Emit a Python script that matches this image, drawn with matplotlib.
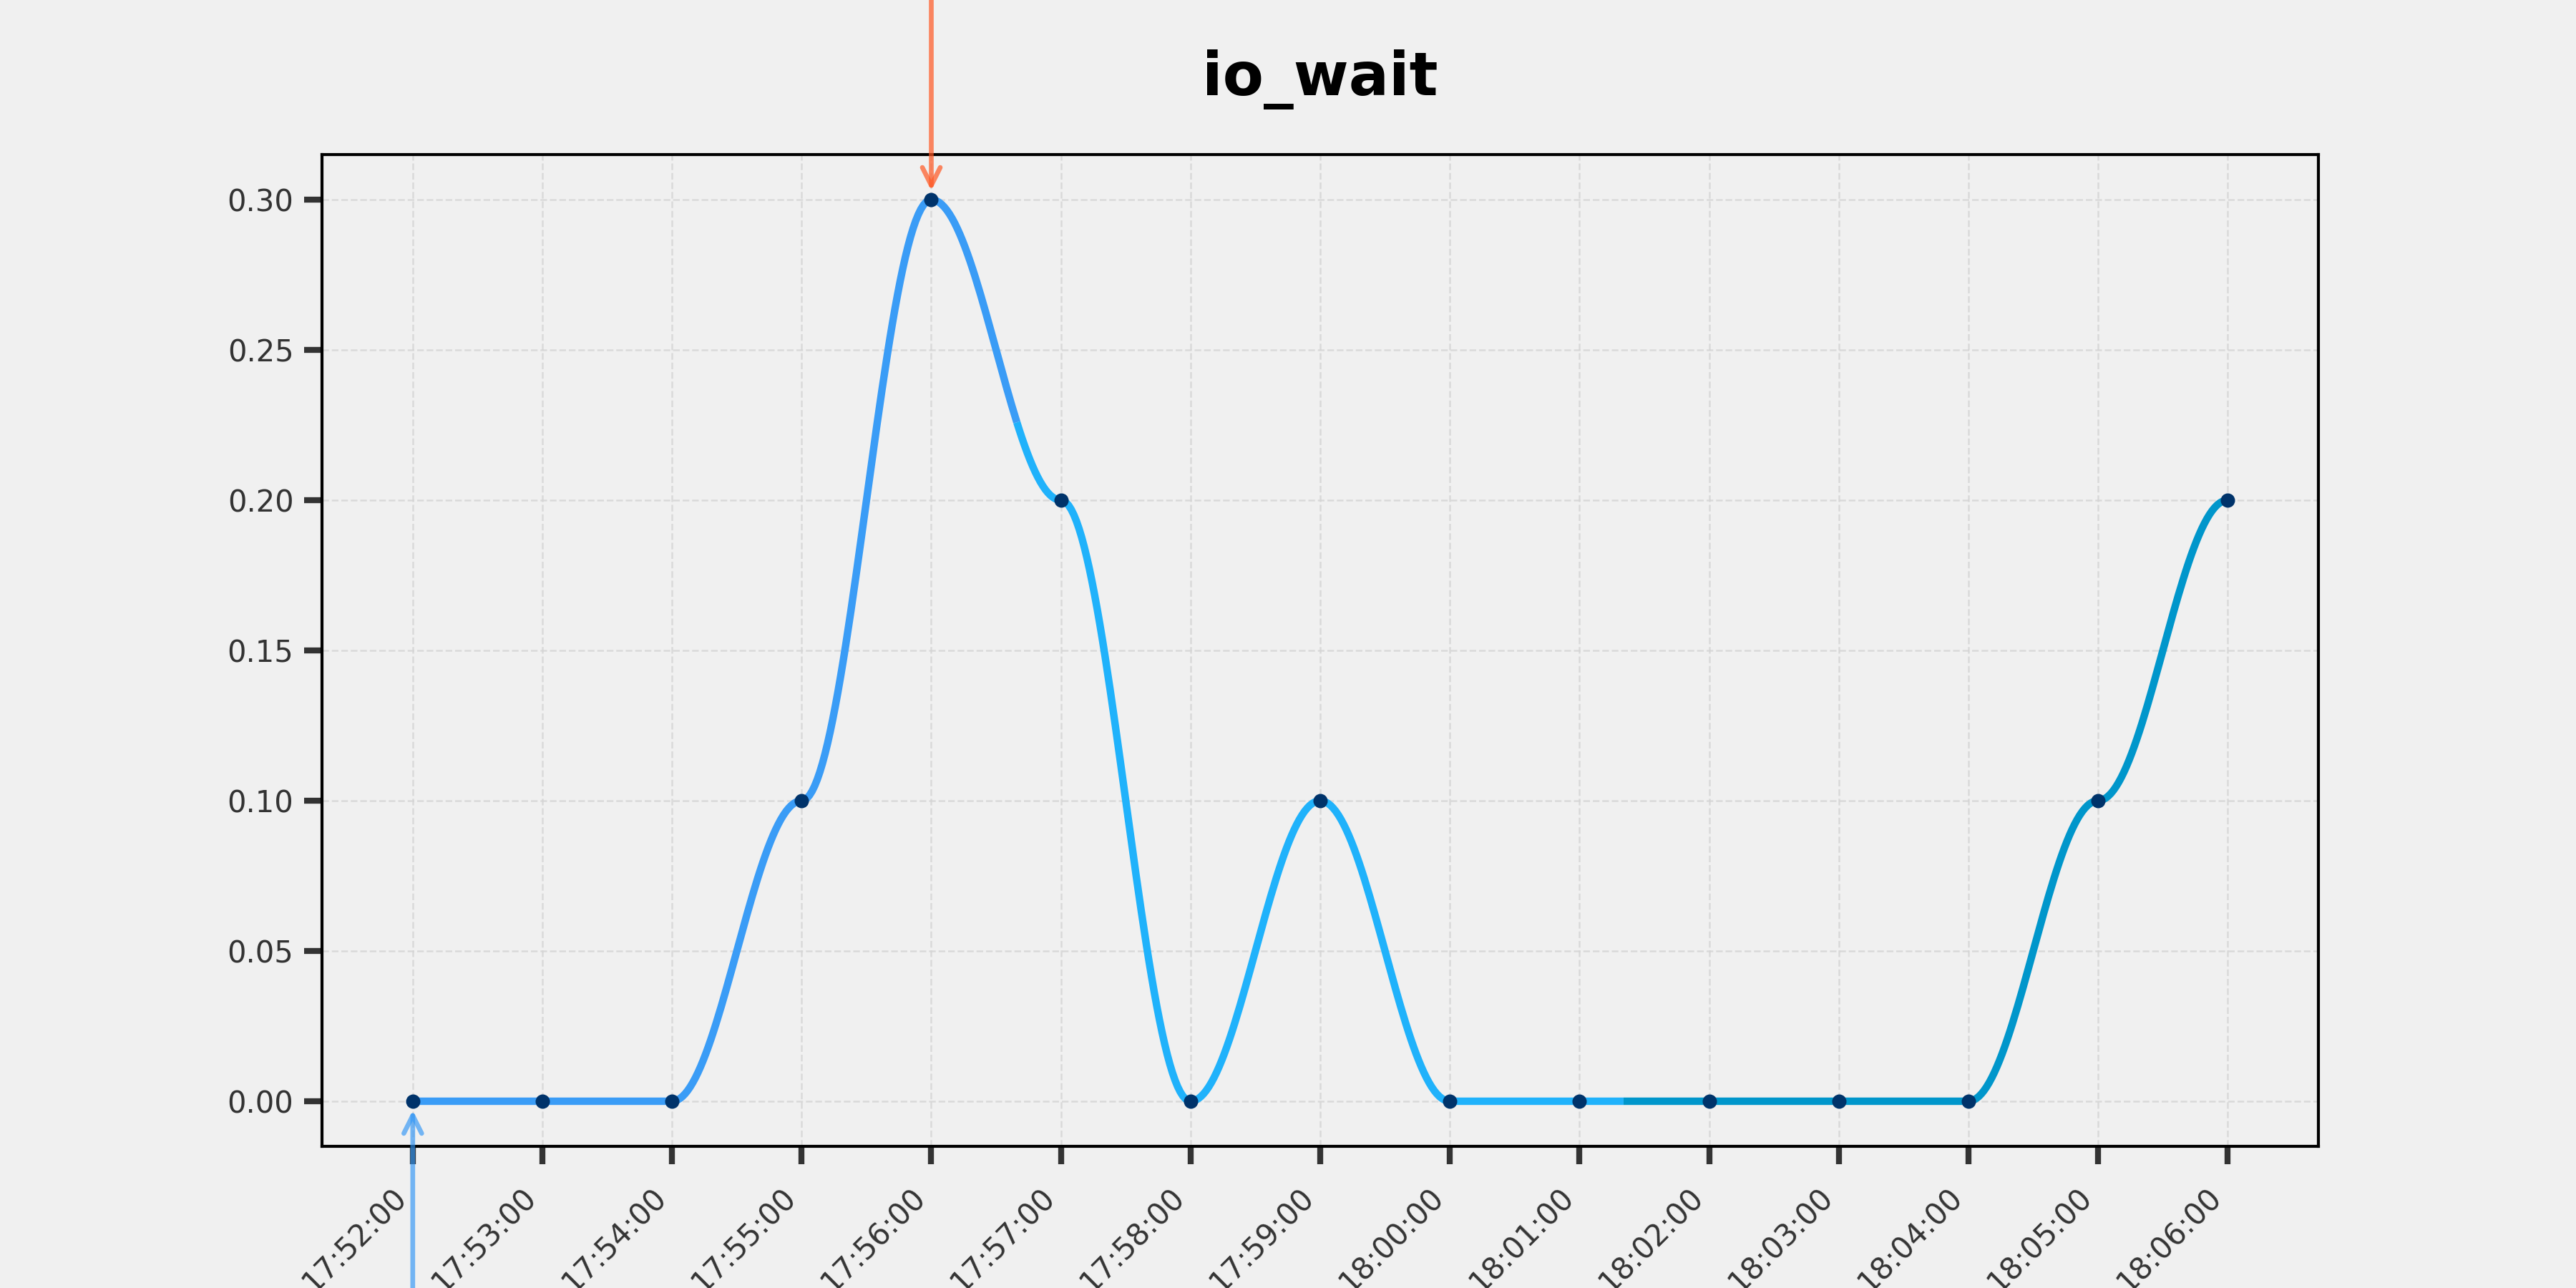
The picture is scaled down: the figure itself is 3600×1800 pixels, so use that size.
import numpy as np
import pandas as pd
import matplotlib
matplotlib.use('Agg')
import matplotlib.pyplot as plt
import matplotlib.dates as mdates

# data
time_labels = ['17:52:00', '17:53:00', '17:54:00', '17:55:00', '17:56:00',
               '17:57:00', '17:58:00', '17:59:00', '18:00:00', '18:01:00',
               '18:02:00', '18:03:00', '18:04:00', '18:05:00', '18:06:00']
io_wait = [0.0, 0.0, 0.0, 0.1, 0.3, 0.2, 0.0, 0.1, 0.0, 0.0, 0.0, 0.0, 0.0, 0.1, 0.2]
seg_colors = ['#3a9cf6', '#20b2fb', '#0096cb']

bg = '#f0f0f0'
times = pd.to_datetime(time_labels, format='%H:%M:%S')
x = mdates.date2num(times)
y = np.array(io_wait)

fig, ax = plt.subplots(figsize=(12, 6), dpi=300)
fig.patch.set_facecolor(bg)
ax.set_facecolor(bg)

# smooth (cosine) curve between consecutive points
xs, ys = [], []
t = np.linspace(0, 1, 50, endpoint=False)
for i in range(len(x) - 1):
    xs.append(x[i] + (x[i+1] - x[i]) * t)
    ys.append(y[i] + (y[i+1] - y[i]) * (1 - np.cos(np.pi * t)) / 2)
xs.append([x[-1]]); ys.append([y[-1]])
xs = np.concatenate(xs); ys = np.concatenate(ys)

n = len(xs)
cuts = [0, n // 3, 2 * n // 3, n - 1]
for k in range(3):
    a, b = cuts[k], cuts[k+1] + 1
    ax.plot(xs[a:b], ys[a:b], color=seg_colors[k], lw=2.5, solid_capstyle='butt', zorder=2)

ax.plot(x, y, 'o', color='#00336a', ms=3.8, zorder=3)

# arrows to max and min
imax = int(np.argmax(y)); imin = int(np.argmin(y))
ax.annotate('', xy=(x[imax], y[imax]), xytext=(0, 200), textcoords='offset points',
            arrowprops=dict(arrowstyle='->', color='#ff5722', alpha=0.7, lw=1.6,
                            mutation_scale=15, shrinkB=3),
            annotation_clip=False)
ax.annotate('', xy=(x[imin], y[imin]), xytext=(0, -200), textcoords='offset points',
            arrowprops=dict(arrowstyle='->', color='#2f95f5', alpha=0.65, lw=1.6,
                            mutation_scale=15, shrinkB=3),
            annotation_clip=False)

ax.xaxis.set_major_locator(mdates.MinuteLocator())
ax.xaxis.set_major_formatter(mdates.DateFormatter('%H:%M:%S'))
plt.setp(ax.get_xticklabels(), rotation=45, ha='right')

ax.grid(True, linestyle='--', color='#d4d4d4', lw=0.6, alpha=0.8)
ax.set_axisbelow(True)
ax.tick_params(axis='both', colors='#333333', labelsize=10, length=6, width=2)
ax.tick_params(axis='x', pad=6)
for s in ax.spines.values():
    s.set_color('black')
    s.set_linewidth(1.0)

ax.set_title('io_wait', fontsize=20, fontweight='bold', pad=20)

fig.savefig('out.png', dpi=300, facecolor=bg)
